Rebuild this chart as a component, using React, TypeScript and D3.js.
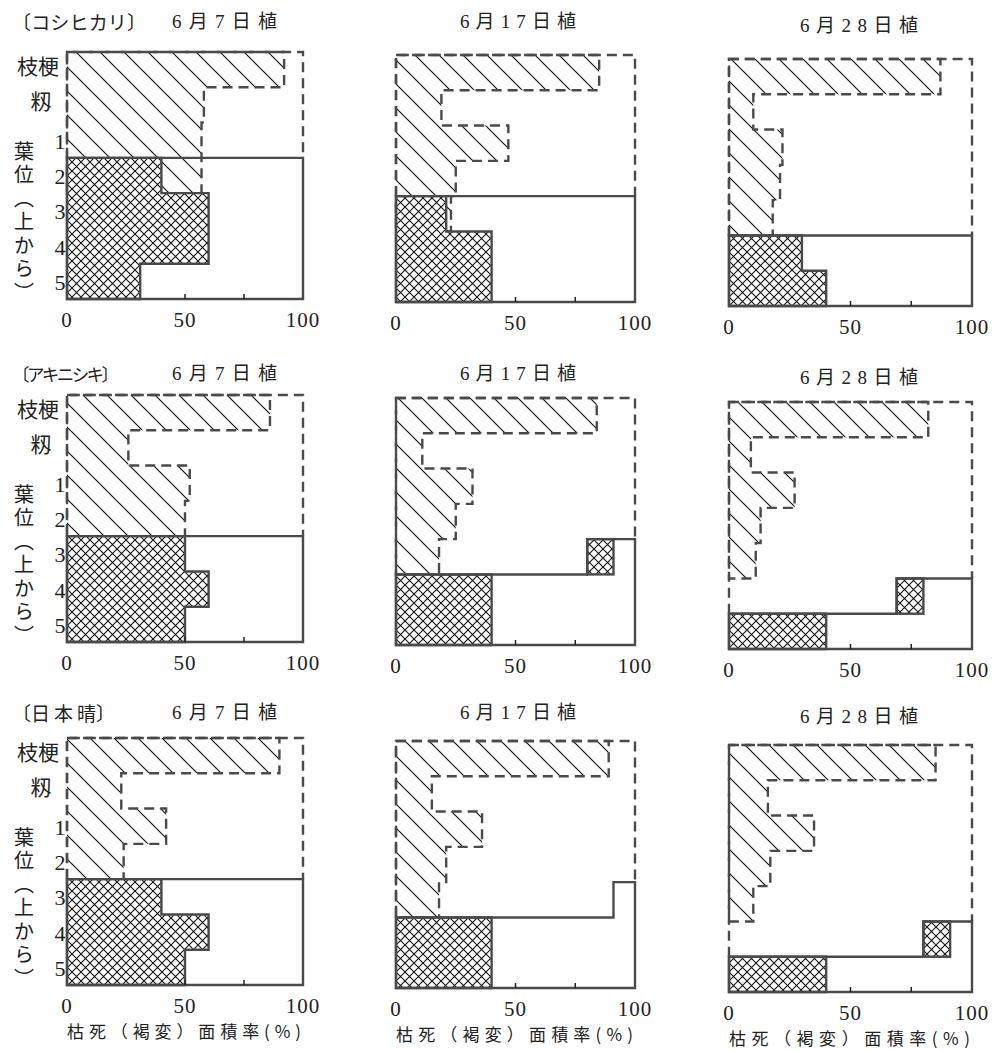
import React from "react";
import * as d3 from "d3";

const varieties = ["〔コシヒカリ〕", "〔アキニシキ〕", "〔日 本 晴〕"];
const plantingDates = ["6月7日植", "6月17日植", "6月28日植"];
const partLabels = ["枝梗", "籾"];
const leafLabels = ["1", "2", "3", "4", "5"];
const leafAxisTitle = "葉位（上から）";
const xTicks = [0, 50, 100];
const minorTicks = [50, 75];
const xAxisTitle = "枯死（褐変）面積率(%)";

// rows: 枝梗, 籾, leaf 1..5 ; values = % area (diagonal hatch)
const diagKoshihikari = [
  [92, 58, 57, 57, 0, 0, 0],
  [85, 19, 47, 25, 23, 0, 0],
  [87, 10, 22, 21, 18, 0, 0],
];
const diagAkinishiki = [
  [86, 26, 52, 50, 0, 0, 0],
  [84, 11, 32, 25, 18, 0, 0],
  [82, 9, 27, 13, 11, 0, 0],
];
const diagNihonbare = [
  [90, 23, 42, 24, 0, 0, 0],
  [89, 15, 36, 21, 18, 0, 0],
  [85, 16, 35, 17, 10, 0, 0],
];

// cross hatch values per row
const crossKoshihikari = [
  [0, 0, 0, 40, 60, 60, 31],
  [0, 0, 0, 0, 21, 40, 40],
  [0, 0, 0, 0, 0, 30, 40],
];
const crossAkinishiki = [
  [0, 0, 0, 0, 50, 60, 50],
  [0, 0, 0, 0, 0, 40, 40],
  [0, 0, 0, 0, 0, 0, 40],
];
const crossNihonbare = [
  [0, 0, 0, 0, 40, 60, 50],
  [0, 0, 0, 0, 0, 40, 40],
  [0, 0, 0, 0, 0, 0, 40],
];

// isolated cross-hatched blocks: [row, from%, to%]
const tipKoshihikari = [null, null, null];
const tipAkinishiki = [null, [4, 80, 91], [5, 69, 80]];
const tipNihonbare = [null, null, [5, 80, 91]];

// solid (lower) region start row: left part, right part, split %
const solidLeftKoshihikari = [3, 4, 5];
const solidLeftAkinishiki = [4, 5, 6];
const solidLeftNihonbare = [4, 5, 6];
const solidRightKoshihikari = [3, 4, 5];
const solidRightAkinishiki = [4, 4, 5];
const solidRightNihonbare = [4, 4, 5];
const solidSplitKoshihikari = [100, 100, 100];
const solidSplitAkinishiki = [100, 80, 69];
const solidSplitNihonbare = [100, 91, 80];

const diagData = [diagKoshihikari, diagAkinishiki, diagNihonbare];
const crossData = [crossKoshihikari, crossAkinishiki, crossNihonbare];
const tipData = [tipKoshihikari, tipAkinishiki, tipNihonbare];
const solidLeft = [solidLeftKoshihikari, solidLeftAkinishiki, solidLeftNihonbare];
const solidRight = [solidRightKoshihikari, solidRightAkinishiki, solidRightNihonbare];
const solidSplit = [solidSplitKoshihikari, solidSplitAkinishiki, solidSplitNihonbare];

// layout
const colX = [67, 396, 729];
const colW = [236, 239, 243];
const rowTop = [52, 395, 738];
const colDy = [0, 3, 7];
const panelH = 247;
const titleY = [21, 373, 712];
const titleX = [172, 460, 800];
const titleLen = [105, 116, 118];
const titleDy = [0, 0, 4];
const varietyLen = [134, 107, 103];
const varietySize = [19, 17.5, 19];

const SERIF = "'Liberation Serif','DejaVu Serif',serif";
const CJK = "'Noto Sans CJK JP','Noto Sans CJK SC',sans-serif";
const MIXED = "'Liberation Serif','Noto Sans CJK JP',serif";
const LINE = "#4a4a4a";

function stepPath(vals: number[], x: any, y: any): string | null {
  const rows = vals.map((v, i) => [v, i]).filter(([v]) => v > 0);
  if (!rows.length) return null;
  const r0 = rows[0][1];
  let p = `M${x(0)},${y(r0)}`;
  rows.forEach(([v, i]) => {
    p += `H${x(v)}V${y(i + 1)}`;
  });
  p += `H${x(0)}Z`;
  return p;
}

function Panel({ vi, ci }: { vi: number; ci: number }) {
  const x0 = colX[ci];
  const w = colW[ci];
  const top = rowTop[vi] + colDy[ci];
  const x = d3.scaleLinear().domain([0, 100]).range([x0, x0 + w]);
  const y = d3.scaleLinear().domain([0, 7]).range([top, top + panelH]);
  const diag = diagData[vi][ci];
  const cross = crossData[vi][ci];
  const tip = tipData[vi][ci];
  const sl = solidLeft[vi][ci];
  const sr = solidRight[vi][ci];
  const sp = solidSplit[vi][ci];
  const diagP = stepPath(diag, x, y);
  const crossP = stepPath(cross, x, y);
  const envelope = `M${x(0)},${y(sl)}V${y(0)}H${x(100)}V${y(sr)}`;
  const solid = `M${x(0)},${y(7)}V${y(sl)}H${x(sp)}V${y(sr)}H${x(100)}V${y(7)}Z`;
  const bottom = y(7);
  return (
    <g>
      {diagP && <path d={diagP} fill="url(#diagHatch)" stroke="none" />}
      {diagP && (
        <path d={diagP} fill="none" stroke={LINE} strokeWidth={2.4} strokeDasharray="10 6" />
      )}
      {crossP && <path d={crossP} fill="#fff" />}
      {crossP && <path d={crossP} fill="url(#crossHatch)" stroke={LINE} strokeWidth={2.4} />}
      {tip && (
        <rect
          x={x(tip[1])}
          y={y(tip[0])}
          width={x(tip[2]) - x(tip[1])}
          height={y(tip[0] + 1) - y(tip[0])}
          fill="url(#crossHatch)"
          stroke={LINE}
          strokeWidth={2.4}
        />
      )}
      <path d={envelope} fill="none" stroke={LINE} strokeWidth={2.4} strokeDasharray="10 6" />
      <path d={solid} fill="none" stroke={LINE} strokeWidth={2.4} />
      {minorTicks.map((t) => (
        <line key={t} x1={x(t)} x2={x(t)} y1={bottom} y2={bottom - 5} stroke="#222" strokeWidth={1.5} />
      ))}
      {xTicks.map((t) => (
        <text
          key={t}
          x={x(t)}
          y={bottom + 21}
          textAnchor="middle"
          dominantBaseline="central"
          fontFamily={SERIF}
          fontSize={21}
          letterSpacing={1}
          fill="#222"
        >
          {t}
        </text>
      ))}
      <text
        x={titleX[ci]}
        y={titleY[vi] + titleDy[ci]}
        dominantBaseline="central"
        fontFamily={MIXED}
        fontSize={19}
        textLength={titleLen[ci]}
        lengthAdjust="spacing"
        fill="#222"
      >
        {plantingDates[ci]}
      </text>
      {vi === 2 && (
        <text
          x={x(0)}
          y={bottom + 45}
          dominantBaseline="central"
          fontFamily={CJK}
          fontSize={17}
          textLength={w - 2}
          lengthAdjust="spacing"
          fill="#222"
        >
          {xAxisTitle}
        </text>
      )}
      {ci === 0 && (
        <g fill="#222">
          <text
            x={12}
            y={titleY[vi]}
            dominantBaseline="central"
            fontFamily={CJK}
            fontSize={varietySize[vi]}
            textLength={varietyLen[vi]}
            lengthAdjust="spacing"
          >
            {varieties[vi]}
          </text>
          {partLabels.map((l, i) => (
            <text
              key={l}
              x={i === 0 ? 38 : 41}
              y={y(i + 0.5) - 5}
              textAnchor="middle"
              dominantBaseline="central"
              fontFamily={CJK}
              fontSize={21}
            >
              {l}
            </text>
          ))}
          {leafLabels.map((l, i) => (
            <text
              key={l}
              x={x(0) - 7}
              y={y(i + 2.5) + 1}
              textAnchor="middle"
              dominantBaseline="central"
              fontFamily={SERIF}
              fontSize={22}
            >
              {l}
            </text>
          ))}
          <text
            x={24}
            y={y(2.5) + 1}
            fontFamily={CJK}
            fontSize={20}
            letterSpacing={3.5}
            style={{ writingMode: "vertical-rl" }}
          >
            {leafAxisTitle}
          </text>
        </g>
      )}
    </g>
  );
}

export default function App() {
  return (
    <svg
      width={994}
      height={1051}
      style={{ position: "absolute", left: 0, top: 0, background: "#fff" }}
    >
      <defs>
        <pattern id="diagHatch" patternUnits="userSpaceOnUse" width={24} height={24}>
          <path d="M-6,-6L30,30M-6,18L6,30M18,-6L30,6" stroke="#111" strokeWidth={1.2} />
        </pattern>
        <pattern id="crossHatch" patternUnits="userSpaceOnUse" width={9} height={9}>
          <rect width={9} height={9} fill="#fff" />
          <path d="M-1,-1L10,10M10,-1L-1,10" stroke="#111" strokeWidth={1.1} />
        </pattern>
      </defs>
      <rect width={994} height={1051} fill="#fff" />
      {varieties.map((_, vi) =>
        plantingDates.map((__, ci) => <Panel key={`${vi}-${ci}`} vi={vi} ci={ci} />)
      )}
    </svg>
  );
}
